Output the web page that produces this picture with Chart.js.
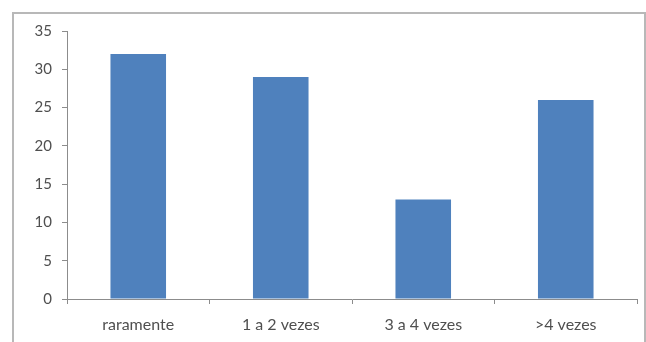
<!DOCTYPE html>
<html lang="pt">
<head>
    <meta charset="UTF-8">
    <title>Frequência</title>
    <script src="https://cdn.jsdelivr.net/npm/chart.js@4.4.1/dist/chart.umd.min.js"></script>
    <style>
        html, body { margin: 0; padding: 0; background: #fff; }
        .wrap { position: relative; width: 646px; height: 342px; overflow: hidden; }
        .frame {
            position: absolute; left: 12px; top: 12px; width: 630px; height: 340px;
            border: 2px solid #b8b8b8; border-bottom: none;
        }
        canvas { position: absolute; left: 0; top: 0; }
    </style>
</head>
<body>
<div class="wrap">
    <div class="frame"></div>
    <canvas id="grafico" width="646" height="342"></canvas>
</div>
<script>
    // dados
    const categorias = ['raramente', '1 a 2 vezes', '3 a 4 vezes', '>4 vezes'];
    const valores = [32, 29, 13, 26];
    const yMin = 0, yMax = 35, yPasso = 5;

    const corEixo = '#8c8c8c';
    const corTexto = '#4f4f4f';

    const ctx = document.getElementById('grafico');

    const chart = new Chart(ctx, {
        type: 'bar',
        data: {
            labels: categorias,
            datasets: [{
                data: valores,
                backgroundColor: '#4F81BD',
                borderWidth: 0,
                categoryPercentage: 1,
                barPercentage: 0.39
            }]
        },
        options: {
            responsive: false,
            animation: false,
            layout: { padding: { top: 31, right: 9, left: 0, bottom: 0 } },
            plugins: { legend: { display: false }, tooltip: { enabled: false } },
            scales: {
                x: {
                    grid: { display: true, drawOnChartArea: false, drawTicks: true, tickLength: 5, color: corEixo, offset: true },
                    border: { display: true, color: corEixo },
                    ticks: { color: corTexto, font: { family: 'Lato', size: 16 }, padding: 11, maxRotation: 0 },
                    afterFit: (s) => { s.height = 43; }
                },
                y: {
                    min: yMin,
                    max: yMax,
                    grid: { display: true, drawOnChartArea: false, drawTicks: true, tickLength: 5, color: corEixo },
                    border: { display: true, color: corEixo },
                    ticks: { stepSize: yPasso, color: corTexto, font: { family: 'Lato', size: 15 }, padding: 10 },
                    afterFit: (s) => { s.width = 67; }
                }
            }
        }
    });
</script>
</body>
</html>
